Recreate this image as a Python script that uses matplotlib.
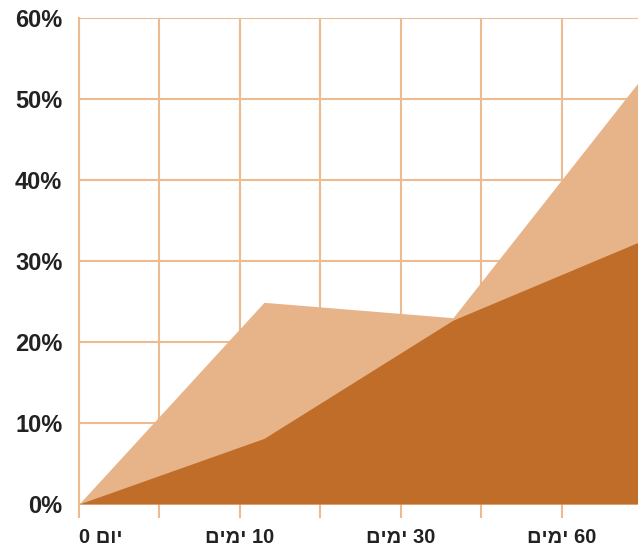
import numpy as np
import matplotlib
matplotlib.use("Agg")
import matplotlib.pyplot as plt

## chart data (x in grid-cell units, values in percent)
x_points = [0, 2.3, 4.65, 6.95]
light_vals = [0, 24.9, 23.0, 52.0]
dark_vals = [0, 8.1, 22.7, 32.3]

## tick labels - written in visual (left-to-right) order since matplotlib has no bidi
x_tick_pos = [0, 2, 4, 6]
x_tick_labels = ["0 " + "יום"[::-1],
                 "ימים"[::-1] + " 10",
                 "ימים"[::-1] + " 30",
                 "ימים"[::-1] + " 60"]
y_ticks = [0, 10, 20, 30, 40, 50, 60]

LIGHT = "#e7b48a"
DARK = "#c06d29"
GRID = "#edbb8f"

plt.rcParams['font.family'] = ['Liberation Sans Narrow', 'Liberation Sans', 'DejaVu Sans']

fig = plt.figure(figsize=(6.38, 5.49), dpi=100)
ax = fig.add_axes([79/638, 45/549, 559/638, 486/549])

## grid first, areas on top
for gx in range(0, 7):
    ax.axvline(gx, color=GRID, lw=1.5, zorder=1)
for gy in y_ticks:
    ax.axhline(gy, color=GRID, lw=1.5, zorder=1)

ax.fill_between(x_points, 0, light_vals, color=LIGHT, lw=0, zorder=2)
ax.fill_between(x_points, 0, dark_vals, color=DARK, lw=0, zorder=3)

ax.set_xlim(0, 6.95)
ax.set_ylim(0, 60)

for s in ["top", "right", "bottom"]:
    ax.spines[s].set_visible(False)
ax.spines["left"].set_color(GRID)
ax.spines["left"].set_linewidth(1.5)

ax.set_yticks(y_ticks)
ax.set_yticklabels([f"{v}%" for v in y_ticks], fontsize=17, fontweight="bold", color="#222222")
ax.tick_params(axis="y", length=0, pad=12)

## tick marks at every grid line, labels only on some
ax.set_xticks(range(0, 7), minor=True)
ax.tick_params(axis="x", which="minor", length=10, width=1.5, color=GRID)
ax.set_xticks(x_tick_pos)
ax.set_xticklabels(x_tick_labels, fontsize=14.5, fontweight="bold", color="#222222")
ax.tick_params(axis="x", which="major", length=10, width=1.5, color=GRID, pad=7)
ax.get_xticklabels()[0].set_horizontalalignment("left")

fig.savefig("out.png", dpi=100)
